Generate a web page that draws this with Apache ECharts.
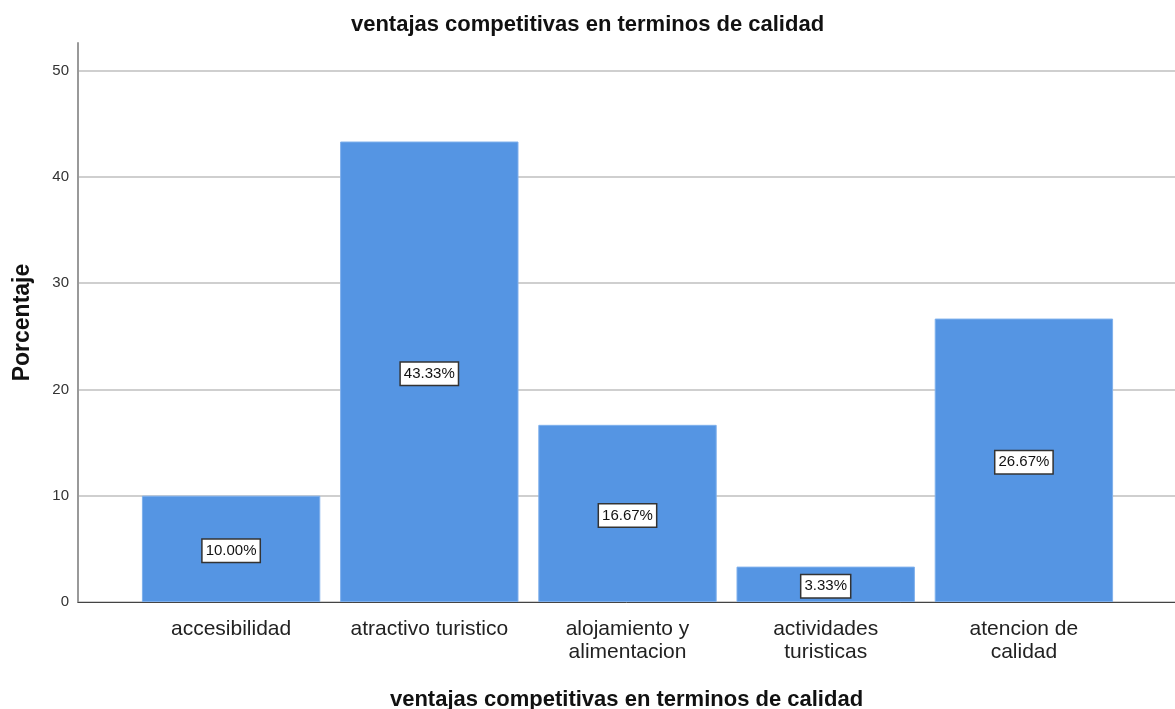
<!DOCTYPE html>
<html>
<head>
<meta charset="utf-8">
<script src="https://cdn.jsdelivr.net/npm/echarts@6/dist/echarts.min.js"></script>
<style>
  html, body { margin: 0; padding: 0; background: #fff; }
  #main { width: 1175px; height: 709px; }
</style>
</head>
<body>
<div id="main"></div>
<script>
  // datos del grafico
  var categorias = ['accesibilidad', 'atractivo turistico', 'alojamiento y\nalimentacion', 'actividades\nturisticas', 'atencion de\ncalidad'];
  var porcentajes = [10.00, 43.33, 16.67, 3.33, 26.67];
  var yMin = 0;
  var yMax = 52.6;
  var yIntervalo = 10;

  var fuente = '"Liberation Sans", Arial, sans-serif';
  var myChart = echarts.init(document.getElementById('main'));

  var option = {
    animation: false,
    title: {
      text: 'ventajas competitivas en terminos de calidad',
      left: 'center',
      top: 9,
      textStyle: { fontFamily: fuente, fontSize: 22, fontWeight: 'bold', color: '#111' }
    },
    grid: [
      // grid de ejes y lineas de division
      { left: 78, right: 0, top: 43, bottom: 107, outerBoundsMode: 'none', containLabel: false },
      // grid de las barras
      { left: 132, right: 52, top: 43, bottom: 107, outerBoundsMode: 'none', containLabel: false }
    ],
    xAxis: [
      {
        gridIndex: 0,
        type: 'category',
        data: [''],
        name: 'ventajas competitivas en terminos de calidad',
        nameLocation: 'middle',
        nameGap: 87,
        nameTextStyle: { fontFamily: fuente, fontSize: 22, fontWeight: 'bold', color: '#111' },
        axisLine: { show: true, lineStyle: { color: '#444', width: 1 } },
        axisTick: { show: false },
        axisLabel: { show: false }
      },
      {
        gridIndex: 1,
        type: 'category',
        data: categorias,
        axisLine: { show: false },
        axisTick: { show: false },
        axisLabel: {
          interval: 0,
          margin: 16,
          fontFamily: fuente,
          fontSize: 21,
          lineHeight: 23,
          color: '#222'
        }
      }
    ],
    yAxis: [
      {
        gridIndex: 0,
        type: 'value',
        min: yMin,
        max: yMax,
        interval: yIntervalo,
        name: 'Porcentaje',
        nameLocation: 'middle',
        nameGap: 44,
        nameTextStyle: { fontFamily: fuente, fontSize: 23, fontWeight: 'bold', color: '#111' },
        axisLine: { show: true, lineStyle: { color: '#999', width: 2 } },
        axisTick: { show: false },
        axisLabel: {
          showMaxLabel: false,
          margin: 9,
          fontFamily: fuente,
          fontSize: 15,
          color: '#333',
          formatter: function (v) { return v % 10 === 0 ? String(v) : ''; }
        },
        splitLine: { show: true, showMaxLine: false, lineStyle: { color: '#cfcfcf', width: 2 } }
      },
      {
        gridIndex: 1,
        type: 'value',
        min: yMin,
        max: yMax,
        interval: yIntervalo,
        show: false,
        splitLine: { show: false }
      }
    ],
    series: [
      {
        name: 'Porcentaje',
        type: 'bar',
        xAxisIndex: 1,
        yAxisIndex: 1,
        data: porcentajes,
        barCategoryGap: '10%',
        itemStyle: { color: '#5595e3', borderColor: '#7fb0ec', borderWidth: 1 },
        label: {
          show: true,
          position: 'inside',
          offset: [0, 2],
          formatter: function (p) { return p.value.toFixed(2) + '%'; },
          fontFamily: fuente,
          fontSize: 15,
          color: '#111',
          backgroundColor: '#fff',
          borderColor: '#333',
          borderWidth: 1.5,
          padding: [4, 3, 3, 3]
        }
      }
    ]
  };
  myChart.setOption(option);
</script>
</body>
</html>
